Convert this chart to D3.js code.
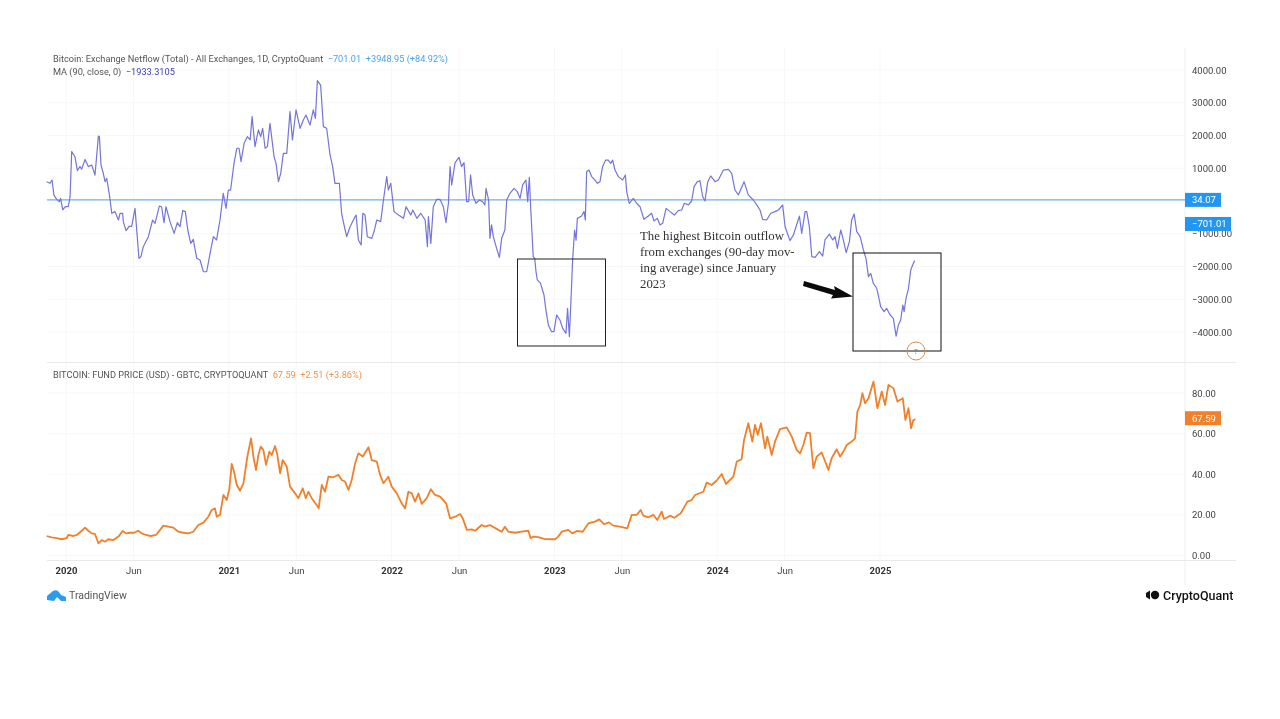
<!DOCTYPE html>
<html>
<head>
<meta charset="utf-8">
<script src="https://cdn.jsdelivr.net/npm/d3@7"></script>
<style>
  html, body { margin: 0; padding: 0; background: #fff; }
  svg { display: block; filter: blur(0.35px); }
  text { font-family: Roboto, sans-serif; }
</style>
</head>
<body>
<svg id="chart" width="1280" height="719"></svg>
<script>
// [decimal year, netflow]
const netflowSeries = [
  [2019.881,590],[2019.902,540],[2019.914,640],[2019.926,180],[2019.943,50],[2019.959,-20],[2019.967,80],[2019.980,-270],[2019.996,-170],
  [2020.014,-170],[2020.025,130],[2020.035,1510],[2020.055,1350],[2020.070,930],[2020.086,1050],[2020.096,970],[2020.117,1270],[2020.137,1050],[2020.158,1100],[2020.178,790],[2020.199,1985],[2020.205,1965],[2020.215,1100],[2020.229,845],[2020.240,590],[2020.250,690],[2020.267,180],[2020.281,-375],
  [2020.301,-325],[2020.322,-580],[2020.332,-375],[2020.348,-375],[2020.352,-630],[2020.369,-905],[2020.389,-765],[2020.403,-785],[2020.424,-225],[2020.448,-1750],[2020.460,-1700],[2020.475,-1395],[2020.506,-1090],[2020.532,-580],[2020.547,-680],[2020.573,-155],[2020.587,-175],
  [2020.602,-660],[2020.614,-175],[2020.639,-630],[2020.664,-990],[2020.684,-660],[2020.700,-785],[2020.717,-295],[2020.733,-325],[2020.748,-885],[2020.766,-1295],[2020.782,-1170],[2020.803,-1750],[2020.823,-1800],[2020.844,-2160],[2020.864,-2160],[2020.885,-1600],[2020.905,-1090],[2020.925,-1190],[2020.946,-580],[2020.966,235],[2020.983,-225],[2020.997,335],
  [2021.011,335],[2021.032,1150],[2021.049,1610],[2021.063,1610],[2021.075,1200],[2021.094,1760],[2021.114,1965],[2021.131,1865],[2021.143,2575],[2021.161,1660],[2021.182,2170],[2021.196,1965],[2021.208,2220],[2021.223,1610],[2021.237,1660],[2021.253,2370],[2021.278,1355],[2021.290,1150],
  [2021.305,590],[2021.319,845],[2021.335,1455],[2021.356,1455],[2021.376,2730],[2021.391,1865],[2021.413,2780],[2021.438,2220],[2021.458,2475],[2021.474,2625],[2021.499,2320],[2021.519,2780],[2021.532,2525],[2021.544,3675],[2021.564,3540],[2021.581,2270],
  [2021.601,2220],[2021.622,1405],[2021.638,1050],[2021.652,540],[2021.679,540],[2021.693,-375],[2021.708,-735],[2021.724,-1090],[2021.745,-785],[2021.775,-480],[2021.782,-430],[2021.796,-1190],[2021.813,-1345],[2021.823,-375],[2021.837,-430],[2021.851,-1090],[2021.878,-1140],[2021.892,-935],[2021.909,-580],[2021.933,-630],[2021.950,30],[2021.970,745],[2021.980,335],[2021.995,540],
  [2022.015,-325],[2022.042,-430],[2022.073,-530],[2022.089,-175],[2022.118,-430],[2022.130,-275],[2022.155,-530],[2022.179,-375],[2022.206,-580],[2022.220,-1395],[2022.226,-480],[2022.241,-1295],[2022.256,-175],[2022.277,50],[2022.297,50],
  [2022.318,-175],[2022.334,-660],[2022.349,-70],[2022.359,1050],[2022.369,490],[2022.390,1170],[2022.414,1335],[2022.430,1050],[2022.445,1170],[2022.461,-20],[2022.473,-20],[2022.485,795],[2022.498,185],[2022.518,-70],[2022.539,30],[2022.559,-20],[2022.573,-120],[2022.580,385],[2022.596,30],
  [2022.604,-1140],[2022.614,-730],[2022.625,-1090],[2022.645,-1445],[2022.662,-1720],[2022.676,-1140],[2022.696,-885],[2022.707,30],[2022.727,235],[2022.752,385],[2022.772,285],[2022.789,80],[2022.805,490],[2022.825,640],[2022.836,-20],[2022.846,725],[2022.854,-175],[2022.870,-1700],[2022.879,-1750],[2022.887,-2160],[2022.895,-2410],[2022.915,-2515],[2022.936,-2870],[2022.948,-3330],[2022.963,-3790],[2022.983,-3990],[2022.997,-3990],
  [2023.014,-3480],[2023.034,-3635],[2023.051,-3890],[2023.071,-4040],[2023.081,-3280],[2023.092,-4145],[2023.100,-3230],[2023.112,-1800],[2023.124,-885],[2023.133,-1195],[2023.141,-530],[2023.167,-460],[2023.182,-325],[2023.190,-580],[2023.198,895],[2023.212,945],[2023.229,745],[2023.249,640],[2023.264,540],[2023.280,590],[2023.296,1050],
  [2023.315,1250],[2023.331,1250],[2023.346,1150],[2023.358,1250],[2023.372,945],[2023.393,745],[2023.419,640],[2023.436,795],[2023.444,285],[2023.460,-70],[2023.485,80],[2023.505,-70],[2023.526,-175],[2023.550,-560],[2023.577,-460],[2023.597,-375],[2023.612,-610],[2023.632,-530],[2023.649,-730],[2023.665,-680],[2023.686,-225],[2023.710,-325],[2023.737,-430],[2023.761,-295],[2023.782,-275],[2023.798,-70],[2023.823,-120],[2023.843,0],[2023.858,440],[2023.878,590],[2023.894,620],[2023.911,130],[2023.925,0],[2023.942,590],[2023.960,765],[2023.987,590],
  [2024.007,640],[2024.038,945],[2024.069,965],[2024.089,845],[2024.109,335],[2024.130,185],[2024.165,590],[2024.191,185],[2024.222,30],[2024.243,-120],[2024.263,-275],[2024.279,-560],[2024.304,-580],[2024.329,-375],[2024.355,-325],[2024.376,-275],[2024.402,-120],[2024.417,-785],[2024.447,-1210],[2024.468,-1040],[2024.484,-785],[2024.505,-460],[2024.519,-990],[2024.540,-325],[2024.550,-325],[2024.566,-785],
  [2024.581,-1700],[2024.601,-1720],[2024.628,-1545],[2024.648,-1680],[2024.662,-1190],[2024.689,-1010],[2024.710,-1190],[2024.724,-1090],[2024.738,-1445],[2024.759,-885],[2024.775,-1190],[2024.792,-1580],[2024.812,-1240],[2024.826,-580],[2024.841,-395],[2024.857,-935],[2024.878,-1090],[2024.898,-1495],[2024.914,-1750],[2024.929,-2310],[2024.943,-2210],[2024.959,-2515],[2024.980,-2665],[2024.996,-3025],
  [2025.004,-3225],[2025.025,-3380],[2025.041,-3280],[2025.062,-3480],[2025.082,-3585],[2025.099,-4125],[2025.113,-3785],[2025.127,-3635],[2025.140,-3175],[2025.148,-3380],[2025.160,-2970],[2025.175,-2665],[2025.189,-2105],[2025.201,-1955],[2025.213,-1820]
];

// [decimal year, GBTC price]
const fundSeries = [
  [2019.881,9.6],[2019.912,8.9],[2019.943,8.5],[2019.973,8.0],[2020.004,8.5],[2020.014,10.1],[2020.045,9.6],[2020.066,10.1],[2020.090,11.7],[2020.117,13.7],[2020.137,12.2],[2020.158,10.9],[2020.178,10.6],[2020.199,6.0],[2020.219,7.6],[2020.240,6.8],[2020.260,8.0],[2020.291,7.6],[2020.322,9.3],[2020.348,12.1],[2020.369,10.9],[2020.393,11.2],[2020.418,11.2],[2020.444,12.2],[2020.465,10.9],[2020.492,10.1],[2020.520,9.6],[2020.553,10.1],[2020.578,12.6],[2020.598,14.7],[2020.629,14.2],[2020.659,13.7],[2020.690,11.7],[2020.721,11.2],[2020.752,10.9],[2020.782,11.7],[2020.813,15.0],[2020.844,16.2],[2020.874,19.1],[2020.895,22.4],[2020.915,23.2],[2020.926,19.1],[2020.946,20.0],[2020.967,29.8],[2020.987,27.3],
  [2021.004,33.1],[2021.018,45.1],[2021.032,41.3],[2021.049,34.7],[2021.069,31.9],[2021.090,35.6],[2021.114,48.7],[2021.137,57.7],[2021.151,48.7],[2021.167,42.1],[2021.182,49.5],[2021.196,53.6],[2021.212,52.0],[2021.229,44.6],[2021.249,51.1],[2021.264,49.5],[2021.284,53.9],[2021.298,49.5],[2021.315,40.5],[2021.331,47.0],[2021.356,43.8],[2021.376,33.9],[2021.407,30.6],[2021.427,28.2],[2021.454,33.1],[2021.473,28.2],[2021.489,31.4],[2021.509,28.2],[2021.540,24.9],[2021.552,23.2],[2021.571,34.7],[2021.591,31.4],[2021.612,38.8],[2021.642,38.5],[2021.673,39.7],[2021.694,37.2],[2021.714,36.4],[2021.735,32.3],[2021.755,37.2],[2021.776,45.4],[2021.796,50.3],[2021.823,48.7],[2021.858,53.3],[2021.878,47.0],[2021.909,46.2],[2021.929,39.7],[2021.950,35.6],[2021.980,38.8],
  [2022.001,33.9],[2022.032,30.6],[2022.062,25.7],[2022.083,23.2],[2022.103,31.4],[2022.124,30.6],[2022.144,26.5],[2022.165,30.6],[2022.185,25.4],[2022.216,28.2],[2022.241,32.6],[2022.267,29.8],[2022.298,29.0],[2022.335,25.7],[2022.359,18.3],[2022.390,19.1],[2022.421,20.4],[2022.437,18.3],[2022.462,12.6],[2022.492,12.9],[2022.513,12.2],[2022.553,15.0],[2022.573,14.2],[2022.604,15.0],[2022.645,13.1],[2022.676,11.7],[2022.696,14.2],[2022.717,11.7],[2022.758,11.2],[2022.799,11.7],[2022.840,12.2],[2022.854,8.5],[2022.870,9.3],[2022.901,9.0],[2022.942,8.1],
  [2023.004,8.0],[2023.024,9.3],[2023.045,11.7],[2023.085,12.6],[2023.110,10.9],[2023.137,12.1],[2023.174,11.7],[2023.208,15.8],[2023.249,16.7],[2023.276,17.8],[2023.305,15.4],[2023.335,16.3],[2023.362,14.7],[2023.403,14.2],[2023.448,13.4],[2023.475,20.0],[2023.505,20.0],[2023.530,22.4],[2023.546,19.6],[2023.577,18.8],[2023.608,20.0],[2023.632,17.5],[2023.659,21.6],[2023.673,18.0],[2023.710,19.6],[2023.737,18.6],[2023.776,20.8],[2023.817,26.5],[2023.843,27.3],[2023.864,29.8],[2023.915,31.4],[2023.935,35.9],[2023.966,34.7],[2023.997,36.9],
  [2024.028,40.1],[2024.054,35.2],[2024.099,38.8],[2024.120,46.2],[2024.150,47.4],[2024.165,56.9],[2024.191,65.1],[2024.216,56.1],[2024.232,64.3],[2024.249,59.4],[2024.269,65.1],[2024.294,52.8],[2024.308,58.5],[2024.335,49.5],[2024.355,56.1],[2024.386,62.2],[2024.427,63.1],[2024.458,58.5],[2024.488,52.0],[2024.509,50.3],[2024.529,54.4],[2024.550,60.5],[2024.570,60.2],[2024.591,42.9],[2024.611,48.7],[2024.642,50.7],[2024.683,42.1],[2024.703,47.9],[2024.734,52.3],[2024.755,48.7],[2024.775,51.1],[2024.796,54.4],[2024.826,56.1],[2024.847,57.7],[2024.861,70.8],[2024.878,74.1],[2024.892,79.9],[2024.908,75.0],[2024.929,77.4],[2024.960,85.6],[2024.984,72.5],
  [2025.011,80.7],[2025.031,74.1],[2025.052,84.0],[2025.082,82.4],[2025.107,75.8],[2025.140,77.4],[2025.156,66.7],[2025.175,72.5],[2025.191,62.6],[2025.205,66.7],[2025.218,67.0]
];

const netflowTicks = [4000, 3000, 2000, 1000, -1000, -2000, -3000, -4000];
const fundTicks = [80, 60, 40, 20, 0];
const yearTicks = [2020, 2021, 2022, 2023, 2024, 2025];
const juneTicks = [2020.414, 2021.414, 2022.414, 2023.414, 2024.414];
const annotationLines = [
  'The highest Bitcoin outflow',
  'from exchanges (90-day mov-',
  'ing average) since January',
  '2023'
];

const netflowColor = '#7474da';
const fundColor = '#f0802a';
const tagBlue = '#2196f3';

const svg = d3.select('#chart');

const x = d3.scaleLinear().domain([2020, 2025]).range([66, 880]);
const yTop = d3.scaleLinear().domain([-4000, 4000]).range([332, 70]);
const yBottom = d3.scaleLinear().domain([0, 80]).range([555.5, 393]);

// faint grid
const grid = svg.append('g').attr('stroke', '#f7f7f9').attr('stroke-width', 1);
yearTicks.concat(juneTicks).forEach(t => {
  grid.append('line').attr('x1', x(t)).attr('x2', x(t)).attr('y1', 48).attr('y2', 560);
});
netflowTicks.forEach(t => {
  grid.append('line').attr('x1', 47).attr('x2', 1185).attr('y1', yTop(t)).attr('y2', yTop(t));
});
fundTicks.forEach(t => {
  grid.append('line').attr('x1', 47).attr('x2', 1185).attr('y1', yBottom(t)).attr('y2', yBottom(t));
});

// pane borders
svg.append('line').attr('x1', 1185).attr('x2', 1185).attr('y1', 48).attr('y2', 585).attr('stroke', '#eeeef0');
svg.append('line').attr('x1', 47).attr('x2', 1236).attr('y1', 362.5).attr('y2', 362.5).attr('stroke', '#e9e9ec');
svg.append('line').attr('x1', 47).attr('x2', 1236).attr('y1', 560.5).attr('y2', 560.5).attr('stroke', '#e9e9ec');

// axes
const styleAxis = g => {
  g.select('.domain').remove();
  g.selectAll('.tick line').remove();
  g.selectAll('.tick text').attr('fill', '#444').style('font-size', '9.5px');
};
svg.append('g').attr('transform', 'translate(1185,0)')
  .call(d3.axisRight(yTop).tickValues(netflowTicks).tickFormat(d3.format('.2f')).tickSize(0).tickPadding(7))
  .call(styleAxis);
svg.append('g').attr('transform', 'translate(1185,0)')
  .call(d3.axisRight(yBottom).tickValues(fundTicks).tickFormat(d3.format('.2f')).tickSize(0).tickPadding(7))
  .call(styleAxis);
svg.append('g').attr('transform', 'translate(0,560)')
  .call(d3.axisBottom(x).tickValues(yearTicks).tickFormat(d3.format('d')).tickSize(0).tickPadding(7))
  .call(styleAxis)
  .call(g => g.selectAll('.tick text').attr('font-weight', 700).attr('fill', '#333'));
svg.append('g').attr('transform', 'translate(0,560)')
  .call(d3.axisBottom(x).tickValues(juneTicks).tickFormat(() => 'Jun').tickSize(0).tickPadding(7))
  .call(styleAxis);

// zero line of the netflow pane, drawn at the last base value
const baseValue = 34.07;
svg.append('line')
  .attr('x1', 47).attr('x2', 1185)
  .attr('y1', yTop(baseValue)).attr('y2', yTop(baseValue))
  .attr('stroke', '#6fb1ea').attr('stroke-width', 1.2);

const netflowLine = d3.line().x(d => x(d[0])).y(d => yTop(d[1]));
const fundLine = d3.line().x(d => x(d[0])).y(d => yBottom(d[1]));

svg.append('path').datum(netflowSeries)
  .attr('d', netflowLine)
  .attr('fill', 'none').attr('stroke', netflowColor).attr('stroke-width', 1.2)
  .attr('stroke-linejoin', 'round');
svg.append('path').datum(fundSeries)
  .attr('d', fundLine)
  .attr('fill', 'none').attr('stroke', fundColor).attr('stroke-width', 1.8)
  .attr('stroke-linejoin', 'round');

// legends
const legend = (px, py, parts) => {
  const t = svg.append('text').attr('x', px).attr('y', py).style('font-size', '9.2px').attr('xml:space', 'preserve');
  parts.forEach(p => t.append('tspan').attr('fill', p[1]).text(p[0]));
};
legend(53, 62, [['Bitcoin: Exchange Netflow (Total) - All Exchanges, 1D, CryptoQuant  ', '#555'], ['\u2212701.01  +3948.95 (+84.92%)', '#4aa3e8']]);
legend(53, 75, [['MA (90, close, 0)  ', '#555'], ['\u22121933.3105', '#3d3dbd']]);
legend(53, 378, [['BITCOIN: FUND PRICE (USD) - GBTC, CRYPTOQUANT  ', '#555'], ['67.59  +2.51 (+3.86%)', '#f0924a']]);

// price tags on the right axis
const priceTag = (yPos, w, label, color) => {
  svg.append('rect').attr('x', 1185).attr('y', yPos - 7).attr('width', w).attr('height', 14).attr('fill', color);
  svg.append('text').attr('x', 1192).attr('y', yPos + 3.3).attr('fill', '#fff').style('font-size', '9.5px').text(label);
};
priceTag(yTop(baseValue), 36, '34.07', tagBlue);
priceTag(yTop(-701.01), 46, '\u2212701.01', tagBlue);
priceTag(yBottom(67.59), 36, '67.59', fundColor);

// hand-drawn annotation boxes
svg.append('rect').attr('x', 517.5).attr('y', 259).attr('width', 88).attr('height', 87)
  .attr('fill', 'none').attr('stroke', '#222');
svg.append('rect').attr('x', 853).attr('y', 253).attr('width', 88).attr('height', 98)
  .attr('fill', 'none').attr('stroke', '#111');

svg.selectAll('.note').data(annotationLines).enter().append('text')
  .attr('class', 'note')
  .attr('x', 640)
  .attr('y', (d, i) => 240 + i * 16)
  .attr('fill', '#333')
  .style('font-family', '"Liberation Serif", serif')
  .style('font-size', '12.8px')
  .text(d => d);

// arrow into the second box
svg.append('path')
  .attr('d', 'M804,281 L835,290 L834,286 L853,296.5 L831,298.5 L833,295 L803,286 Z')
  .attr('fill', '#0a0a0a');

// small marker on the box edge
svg.append('circle').attr('cx', 916).attr('cy', 351).attr('r', 9)
  .attr('fill', 'none').attr('stroke', '#d98a50').attr('stroke-width', 1);
svg.append('text').attr('x', 916).attr('y', 354).attr('text-anchor', 'middle')
  .attr('fill', '#777').style('font-size', '8px').text('?');

// TradingView mark
svg.append('path')
  .attr('d', 'M47,600 L47,596 L53,591 Q57,589 59,592 L61,595 L66,597 L66,601 L61,601 L57,597 L54,601 Z')
  .attr('fill', '#2a9cf0');
svg.append('text').attr('x', 69).attr('y', 599).attr('fill', '#555').style('font-size', '10.5px').text('TradingView');

// CryptoQuant mark
svg.append('circle').attr('cx', 1155).attr('cy', 595).attr('r', 4.2).attr('fill', '#111');
svg.append('path').attr('d', 'M1150,590.5 L1150,599.5 L1146,597 L1146,593 Z').attr('fill', '#111');
svg.append('text').attr('x', 1163).attr('y', 599.5).attr('fill', '#111')
  .style('font-size', '12.5px').style('font-weight', 500).text('CryptoQuant');
</script>
</body>
</html>
